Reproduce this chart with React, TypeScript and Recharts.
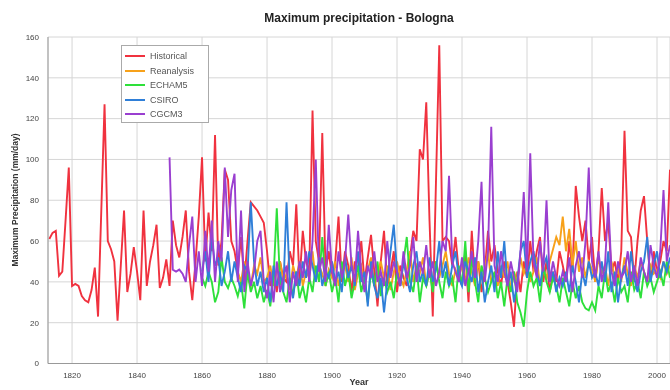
import { CartesianGrid, Legend, Line, LineChart, XAxis, YAxis } from "recharts"

// annual maxima, mm/day
const historicalStart = 1813
const historical = [
  61, 64, 65, 43, 45, 70, 96,
  38, 39, 38, 33, 31, 30, 36, 47, 23, 75,
  127, 60, 56, 50, 21, 48, 75, 35, 44, 57,
  45, 31, 75, 38, 50, 58, 68, 37, 42, 51,
  38, 70, 58, 52, 62, 75, 45, 31, 50, 72,
  101, 50, 74, 55, 112, 48, 60, 95, 90, 60,
  55, 45, 62, 40, 60, 79, 77, 75, 72, 69,
  55, 38, 45, 35, 50, 42, 40, 55, 48, 78,
  40, 65, 50, 45, 124, 60, 50, 113, 45, 55,
  42, 50, 72, 40, 55, 48, 35, 50, 45, 60,
  40, 52, 63, 45, 28, 50, 65, 38, 45, 55,
  35, 48, 42, 38, 52, 65, 60, 105, 100, 128,
  70, 23, 90, 156, 60, 62, 60, 48, 62, 45,
  38, 55, 30, 65, 40, 50, 35, 45, 65, 50,
  58, 45, 38, 50, 40, 30, 18, 45, 35, 50,
  42, 60, 45, 55, 62, 40, 50, 35, 45, 40,
  55, 48, 40, 60, 45, 87, 72, 60, 70, 50,
  62, 40, 55, 86, 60, 70, 45, 50, 40, 55,
  114, 65, 62, 40, 60, 75, 82, 60, 40, 55,
  45, 50, 60, 55, 95,
]

const reanalysisStart = 1871
const reanalysis = [
  45, 40, 50, 42, 38, 48, 44, 52, 40,
  42, 48, 38, 45, 50, 40, 44, 36, 48, 42,
  50, 38, 45, 42, 55, 40, 48, 44, 38, 46,
  42, 50, 38, 45, 48, 40, 52, 36, 44, 48,
  40, 46, 52, 38, 44, 50, 42, 48, 36, 45,
  50, 42, 38, 46, 55, 40, 48, 44, 52, 38,
  45, 40, 50, 42, 48, 55, 44, 38, 46, 42,
  48, 40, 52, 45, 38, 50, 42, 46, 55, 40,
  44, 38, 48, 42, 50, 36, 45, 40, 52, 44,
  48, 40, 45, 52, 38, 46, 42, 50, 56, 62,
  58, 72, 55, 66, 48, 60, 45, 52, 42, 50,
  46, 40, 52, 44, 48, 38, 50, 42, 46, 40,
  52, 44, 38, 48, 42, 50, 45, 40, 48, 44,
  46, 42, 50, 44, 48,
]

const echamStart = 1860
const echam5 = [
  42, 38, 45, 40, 30, 35, 52, 40, 37, 42,
  38, 33, 40, 27, 45, 35, 40, 32, 38, 30,
  36, 28, 42, 76, 40, 35, 30, 42, 33, 45,
  32, 38, 30, 42, 35, 48, 40, 62, 38, 45,
  35, 42, 30, 50, 38, 45, 32, 40, 48, 35,
  42, 30, 45, 38, 50, 33, 42, 35, 40, 32,
  45, 38, 50, 62, 40, 35, 48, 30, 42, 38,
  45, 35, 50, 40, 32, 45, 38, 42, 30, 48,
  38, 60, 35, 52, 40, 30, 48, 42, 35, 40,
  45, 32, 40, 28, 42, 35, 45, 30, 25, 18,
  35, 45, 38, 42, 30, 48, 40, 35, 42, 38,
  30, 42, 35, 28, 40, 32, 38, 30, 27, 26,
  30, 26, 38, 32, 45, 35, 40, 30, 42, 35,
  38, 30, 45, 36, 40, 32, 45, 38, 42, 35,
  40, 45, 38, 50, 42,
]

const csiroStart = 1860
const csiro = [
  45, 55, 40, 62, 48, 52, 38, 45, 55, 40,
  50, 42, 35, 48, 45, 79, 50, 38, 45, 35,
  42, 30, 48, 38, 45, 35, 79, 40, 32, 45,
  38, 50, 42, 55, 48, 40, 52, 38, 45, 42,
  50, 40, 45, 35, 52, 42, 48, 38, 55, 40,
  45, 28, 50, 38, 32, 42, 25, 40, 55, 68,
  45, 38, 50, 42, 35, 48, 55, 40, 45, 38,
  52, 40, 46, 60, 42, 50, 38, 48, 55, 42,
  38, 50, 45, 40, 52, 35, 45, 30, 40, 48,
  35, 55, 42, 60, 38, 45, 30, 40, 55, 60,
  42, 50, 55, 45, 38, 48, 52, 40, 45, 35,
  42, 38, 45, 35, 48, 40, 30, 45, 38, 50,
  42, 45, 38, 50, 40, 55, 35, 45, 30, 42,
  48, 38, 55, 42, 35, 45, 50, 62, 40, 48,
  55, 42, 50, 45, 52,
]

const cgcmStart = 1850
const cgcm3 = [
  101, 46, 45, 46, 44, 40, 58, 72, 40, 55,
  38, 65, 45, 70, 40, 60, 50, 96, 62, 85,
  93, 40, 75, 35, 50, 38, 45, 60, 65, 40,
  32, 45, 30, 50, 35, 42, 48, 30, 45, 38,
  50, 42, 55, 40, 60, 100, 45, 52, 40, 68,
  45, 38, 55, 42, 50, 73, 48, 40, 65, 45,
  35, 48, 42, 55, 40, 45, 38, 60, 42, 50,
  45, 38, 55, 42, 48, 62, 40, 50, 44, 58,
  42, 50, 38, 45, 60, 55, 92, 50, 45, 40,
  52, 38, 45, 55, 42, 60, 89, 40, 55, 116,
  48, 40, 55, 45, 38, 50, 42, 35, 55, 84,
  45, 103, 50, 42, 60, 45, 80, 40, 50, 42,
  38, 45, 40, 52, 35, 48, 55, 42, 60, 96,
  50, 42, 55, 40, 48, 79, 45, 38, 50, 42,
  45, 55, 40, 48, 38, 52, 45, 40, 58, 48,
  42, 55, 85, 50, 58,
]

const firstYear = 1813
const lastYear = 2004
const xTicks = [1820, 1840, 1860, 1880, 1900, 1920, 1940, 1960, 1980, 2000]
const yTicks = [0, 20, 40, 60, 80, 100, 120, 140, 160]

const series = [
  { key: "historical", name: "Historical", color: "#f0323f", values: historical, start: historicalStart },
  { key: "reanalysis", name: "Reanalysis", color: "#f7a11a", values: reanalysis, start: reanalysisStart },
  { key: "echam5", name: "ECHAM5", color: "#2ee03a", values: echam5, start: echamStart },
  { key: "csiro", name: "CSIRO", color: "#2f7fd8", values: csiro, start: csiroStart },
  { key: "cgcm3", name: "CGCM3", color: "#9a3fd0", values: cgcm3, start: cgcmStart },
]

const rows: Record<string, number | undefined>[] = []
for (let year = firstYear; year <= lastYear; year++) {
  const row: Record<string, number | undefined> = { year }
  for (const s of series) {
    const i = year - s.start
    row[s.key] = i >= 0 && i < s.values.length ? s.values[i] : undefined
  }
  rows.push(row)
}

const font = "'Liberation Sans', Arial, sans-serif"

function LegendBox() {
  return (
    <div
      style={{
        position: "absolute",
        left: 121,
        top: 45,
        width: 88,
        height: 78,
        border: "1px solid #aaa",
        background: "#fff",
        boxSizing: "border-box",
        padding: "3px 0 0 3px",
        fontFamily: font,
        fontSize: 9,
        color: "#555",
      }}
    >
      {series.map((s) => (
        <div key={s.key} style={{ display: "flex", alignItems: "center", height: 14.5 }}>
          <span style={{ display: "inline-block", width: 20, height: 2, background: s.color, marginRight: 5 }} />
          {s.name}
        </div>
      ))}
    </div>
  )
}

export default function App() {
  return (
    <div style={{ position: "absolute", left: 0, top: 0, width: 670, height: 390, background: "#fff", filter: "blur(0.5px)" }}>
      <div
        style={{
          position: "absolute",
          left: 48,
          width: 622,
          top: 11,
          textAlign: "center",
          fontFamily: font,
          fontWeight: "bold",
          fontSize: 12,
          color: "#222",
        }}
      >
        Maximum precipitation - Bologna
      </div>
      <LineChart width={670} height={390} data={rows} margin={{ top: 37, right: 0, bottom: 0, left: 0 }}>
        <CartesianGrid stroke="#d6d6d6" />
        <XAxis
          dataKey="year"
          type="number"
          domain={[1812.6, 2004]}
          ticks={xTicks}
          allowDataOverflow
          height={26.5}
          tick={{ fontSize: 8, fill: "#444", fontFamily: font }}
          tickLine={false}
          tickMargin={3}
          stroke="#999"
        />
        <YAxis
          domain={[0, 160]}
          ticks={yTicks}
          width={48}
          tick={{ fontSize: 8, fill: "#444", fontFamily: font }}
          tickLine={false}
          tickMargin={3}
          stroke="#999"
        />
        <Legend content={() => <LegendBox />} wrapperStyle={{ position: "absolute", left: 0, top: 0, width: 0, height: 0 }} />
        {series.map((s) => (
          <Line
            key={s.key}
            dataKey={s.key}
            name={s.name}
            stroke={s.color}
            strokeWidth={1.9}
            dot={false}
            type="linear"
            isAnimationActive={false}
          />
        ))}
      </LineChart>
      <div
        style={{
          position: "absolute",
          left: 48,
          width: 622,
          top: 377,
          textAlign: "center",
          fontFamily: font,
          fontWeight: "bold",
          fontSize: 9,
          color: "#333",
        }}
      >
        Year
      </div>
      <div
        style={{
          position: "absolute",
          left: 15,
          top: 200,
          transform: "translate(-50%, -50%) rotate(-90deg)",
          whiteSpace: "nowrap",
          fontFamily: font,
          fontWeight: "bold",
          fontSize: 8.5,
          color: "#333",
        }}
      >
        Maximum Precipitation (mm/day)
      </div>
    </div>
  )
}
